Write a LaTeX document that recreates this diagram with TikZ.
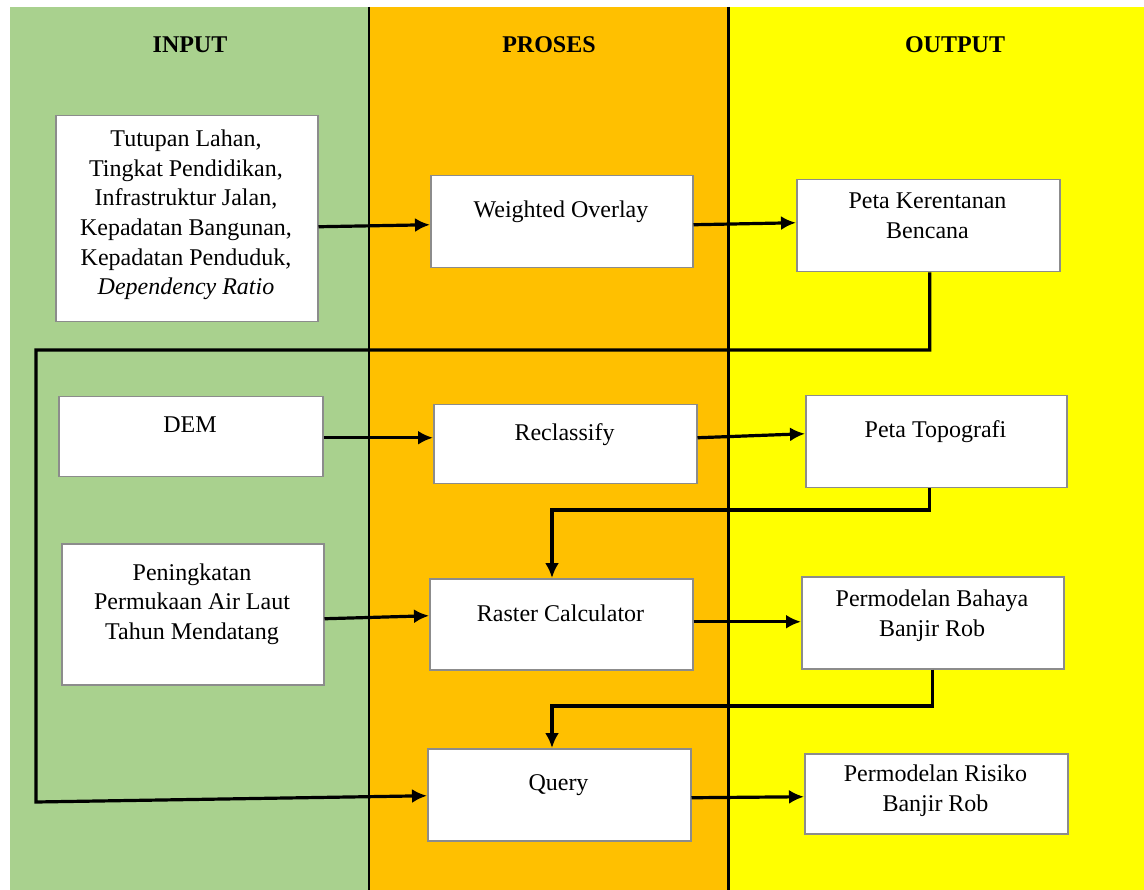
\documentclass[tikz,border=0pt]{standalone}
\usepackage{fontspec}
\setmainfont{Liberation Serif}
\usetikzlibrary{arrows.meta,calc}
\definecolor{colgreen}{HTML}{A9D18E}
\definecolor{colorange}{HTML}{FFC000}
\definecolor{colyellow}{HTML}{FFFF00}
\definecolor{boxgray}{HTML}{8C8C8C}
\begin{document}
\begin{tikzpicture}[x=1pt,y=-1pt,
  box/.style={draw=boxgray, line width=1.5pt, fill=white, inner sep=0pt, anchor=north west},
  txt/.style={font=\fontsize{24pt}{29.6pt}\selectfont, align=center, inner sep=0pt},
  head/.style={font=\fontsize{24pt}{29.6pt}\selectfont\bfseries, inner sep=0pt},
  arr/.style={line width=3.2pt, -{Latex[length=15pt,width=14pt]}},
  divider/.style={line width=2.2pt, black}]
\useasboundingbox (0,0) rectangle (1144,890);
\fill[white] (0,0) rectangle (1144,890);
% columns
\fill[colgreen] (10,7) rectangle (369,890);
\fill[colorange] (369,7) rectangle (728.5,890);
\fill[colyellow] (728.5,7) rectangle (1144,890);
\draw[divider] (369,7) -- (369,890);
\draw[divider] (728.5,7) -- (728.5,890);
% headings
\node[head] (hin) at (190,45) {INPUT};
\node[head] (hpr) at (549,45) {PROSES};
\node[head] (hout) at (955,45) {OUTPUT};
% boxes
\node[box, minimum width=262, minimum height=206] (in1) at (55,115) {};
\node[box, minimum width=262, minimum height=92] (wo) at (430,175) {};
\node[box, minimum width=263, minimum height=92] (pkb) at (796,179) {};
\node[box, minimum width=264, minimum height=80] (dem) at (58,396) {};
\node[box, minimum width=263, minimum height=79] (rec) at (433,404) {};
\node[box, minimum width=261, minimum height=92] (pt) at (805,395) {};
\node[box, minimum width=262, minimum height=141] (pen) at (61,543) {};
\node[box, minimum width=263, minimum height=91] (rc) at (429,578) {};
\node[box, minimum width=262, minimum height=92] (pbbr) at (801,576) {};
\node[box, minimum width=263, minimum height=92] (qry) at (427,748) {};
\node[box, minimum width=263, minimum height=80] (prbr) at (804,753) {};
% texts
\node[txt] (tin1) at (186,215) {Tutupan Lahan,\\Tingkat Pendidikan,\\Infrastruktur Jalan,\\Kepadatan Bangunan,\\Kepadatan Penduduk,\\\textit{Dependency Ratio}};
\node[txt] (two) at (561,212) {Weighted Overlay};
\node[txt] (tpkb) at (927.5,216) {Peta Kerentanan\\Bencana};
\node[txt] (tdem) at (190,425) {DEM};
\node[txt] (trec) at (564.5,435) {Reclassify};
\node[txt] (tpt) at (935.5,432) {Peta Topografi};
\node[txt] (tpen) at (192,604) {Peningkatan\\Permukaan Air Laut\\Tahun Mendatang};
\node[txt] (trc) at (560.5,613) {Raster Calculator};
\node[txt] (tpbbr) at (932,616) {Permodelan Bahaya\\Banjir Rob};
\node[txt] (tqry) at (558.5,785) {Query};
\node[txt] (tprbr) at (935.5,791) {Permodelan Risiko\\Banjir Rob};
% connector coordinates
\coordinate (k2) at (36,350);
\coordinate (k3) at (36,802);
\coordinate (t1) at (552,510);
\coordinate (q1) at (552,706);
% connectors
\draw[arr] ([yshift=-8pt]in1.east) -- ([yshift=-3pt]wo.west);
\draw[arr] ([yshift=-3pt]wo.east) -- ([yshift=3pt]pkb.west);
\draw[arr] ([xshift=1.5pt]pkb.south) |- (k2) -- (k3) -- ([yshift=-1pt]qry.west);
\draw[arr] ([yshift=-1pt]dem.east) -- ([yshift=6.5pt]rec.west);
\draw[arr] ([yshift=6.5pt]rec.east) -- ([yshift=8pt]pt.west);
\draw[arr] ([xshift=-6.5pt]pt.south) |- (t1) -- (t1 |- rc.north);
\draw[arr] ([yshift=-4.5pt]pen.east) -- ([yshift=8.5pt]rc.west);
\draw[arr] ([yshift=2.5pt]rc.east) -- ([yshift=1pt]pbbr.west);
\draw[arr] (pbbr.south) |- (q1) -- (q1 |- qry.north);
\draw[arr] ([yshift=-3pt]qry.east) -- ([yshift=-3pt]prbr.west);
\end{tikzpicture}
\end{document}
